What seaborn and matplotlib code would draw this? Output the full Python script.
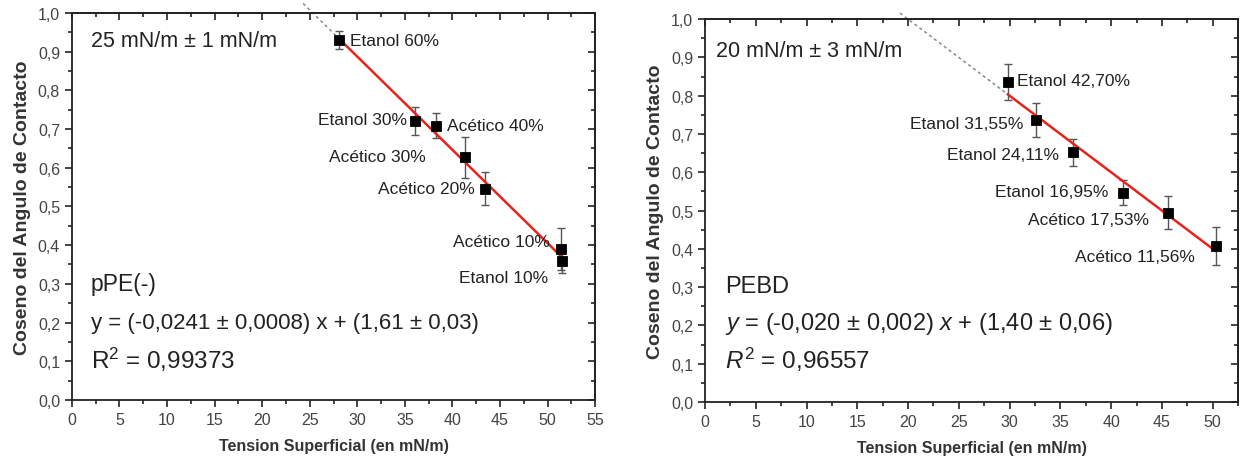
import seaborn as sns
import matplotlib.pyplot as plt
import pandas as pd
from matplotlib.ticker import MultipleLocator, FuncFormatter

# pPE(-) panel
ppe_labels = ["Etanol 60%", "Etanol 30%", "Acético 40%", "Acético 30%",
              "Acético 20%", "Acético 10%", "Etanol 10%"]
ppe_x = [28.1, 36.1, 38.3, 41.3, 43.4, 51.4, 51.5]
ppe_y = [0.930, 0.720, 0.709, 0.627, 0.546, 0.390, 0.358]
ppe_err = [0.022, 0.036, 0.033, 0.053, 0.043, 0.055, 0.030]
ppe_slope, ppe_icpt = -0.0241, 1.61

# PEBD panel
pebd_labels = ["Etanol 42,70%", "Etanol 31,55%", "Etanol 24,11%",
               "Etanol 16,95%", "Acético 17,53%", "Acético 11,56%"]
pebd_x = [29.8, 32.6, 36.2, 41.2, 45.6, 50.3]
pebd_y = [0.837, 0.737, 0.652, 0.547, 0.494, 0.407]
pebd_err = [0.047, 0.045, 0.035, 0.033, 0.043, 0.049]
pebd_slope, pebd_icpt = -0.020, 1.40

y_ticks = [0.0, 0.1, 0.2, 0.3, 0.4, 0.5, 0.6, 0.7, 0.8, 0.9, 1.0]

sns.set_theme(style="ticks")
plt.rcParams['font.family'] = ['Liberation Sans', 'DejaVu Sans']
plt.rcParams['mathtext.fontset'] = 'custom'
plt.rcParams['mathtext.rm'] = 'Liberation Sans'
plt.rcParams['mathtext.it'] = 'Liberation Sans:italic'

fig = plt.figure(figsize=(12.4, 4.64), dpi=100)
ax1 = fig.add_axes([0.058, 0.136, 0.422, 0.834])
ax2 = fig.add_axes([0.5685, 0.1315, 0.430, 0.825])


def draw_panel(ax, labels, xs, ys, errs, slope, icpt, x_start, x_dash, xmax, label_pos):
    df = pd.DataFrame({"x": xs, "y": ys, "err": errs, "label": labels})
    # fit line and its dotted extension
    fit = pd.DataFrame({"x": [x_start, max(xs)]})
    fit["y"] = slope * fit["x"] + icpt
    ext = pd.DataFrame({"x": [x_dash, x_start]})
    ext["y"] = slope * ext["x"] + icpt
    ax.plot(ext["x"], ext["y"], ls=(0, (2, 2)), color="#888888", lw=1.1, clip_on=False)
    ax.errorbar(df["x"], df["y"], yerr=df["err"], fmt="none", ecolor="#555555",
                elinewidth=1, capsize=3, capthick=1)
    sns.lineplot(data=fit, x="x", y="y", ax=ax, color="#e8231c", lw=1.8)
    sns.scatterplot(data=df, x="x", y="y", ax=ax, marker="s", color="black",
                    s=55, edgecolor="black", zorder=5)
    for (lx, ly, ha), txt in zip(label_pos, labels):
        ax.text(lx, ly, txt, ha=ha, va="center", fontsize=12.5, color="#222222")

    ax.set_xlim(0, xmax)
    ax.set_ylim(0, 1.0)
    ax.set_yticks(y_ticks)
    ax.xaxis.set_major_locator(MultipleLocator(5))
    ax.xaxis.set_minor_locator(MultipleLocator(2.5))
    ax.yaxis.set_minor_locator(MultipleLocator(0.05))
    ax.yaxis.set_major_formatter(FuncFormatter(lambda v, p: f"{v:.1f}".replace(".", ",")))
    ax.tick_params(which="major", direction="out", length=5, width=1.2,
                   labelsize=11.5, labelcolor="#444444", color="#222222")
    ax.tick_params(which="minor", direction="out", length=3, width=1.2, color="#222222")
    for side in ["top", "right"]:
        ax.spines[side].set_visible(True)
    for sp in ax.spines.values():
        sp.set_linewidth(1.3)
        sp.set_color("#222222")
    top = ax.secondary_xaxis("top")
    top.xaxis.set_major_locator(MultipleLocator(5))
    top.xaxis.set_minor_locator(MultipleLocator(2.5))
    top.tick_params(which="both", direction="in", labeltop=False, color="#222222", width=1.2)
    top.tick_params(which="major", length=5)
    top.tick_params(which="minor", length=3)
    right = ax.secondary_yaxis("right")
    right.set_yticks(y_ticks)
    right.yaxis.set_minor_locator(MultipleLocator(0.05))
    right.tick_params(which="both", direction="in", labelright=False, color="#222222", width=1.2)
    right.tick_params(which="major", length=5)
    right.tick_params(which="minor", length=3)
    ax.set_xlabel("Tension Superficial (en mN/m)", fontsize=11.5, fontweight="bold",
                  color="#333333", labelpad=8)
    ax.set_ylabel("Coseno del Angulo de Contacto", fontsize=14, fontweight="bold",
                  color="#333333", labelpad=5)


draw_panel(ax1, ppe_labels, ppe_x, ppe_y, ppe_err, ppe_slope, ppe_icpt,
           28.1, 24.3, 55,
           [(29.2, 0.93, "left"), (35.2, 0.725, "right"), (39.4, 0.708, "left"),
            (37.2, 0.628, "right"), (42.3, 0.545, "right"), (50.2, 0.41, "right"),
            (50.0, 0.315, "right")])
ax1.text(2.0, 0.93, "25 mN/m ± 1 mN/m", fontsize=15.5, va="center", color="#222222")
ax1.text(2.0, 0.30, "pPE(-)", fontsize=16.5, va="center", color="#222222")
ax1.text(2.0, 0.20, "y = (-0,0241 ± 0,0008) x + (1,61 ± 0,03)", fontsize=16,
         va="center", color="#222222")
ax1.text(2.0, 0.105, "R$^2$ = 0,99373", fontsize=17.5, va="center", color="#222222")

draw_panel(ax2, pebd_labels, pebd_x, pebd_y, pebd_err, pebd_slope, pebd_icpt,
           29.8, 19.2, 52.5,
           [(30.7, 0.84, "left"), (31.4, 0.727, "right"), (34.9, 0.647, "right"),
            (39.7, 0.55, "right"), (43.7, 0.477, "right"), (48.2, 0.381, "right")])
ax2.text(1.1, 0.917, "20 mN/m ± 3 mN/m", fontsize=15.5, va="center", color="#222222")
ax2.text(2.0, 0.303, "PEBD", fontsize=17, va="center", color="#222222")
ax2.text(2.0, 0.207, "$\\mathit{y}$ = (-0,020 ± 0,002) $\\mathit{x}$ + (1,40 ± 0,06)",
         fontsize=17, va="center", color="#222222")
ax2.text(2.0, 0.112, "$\\mathit{R}^2$ = 0,96557", fontsize=17.5, va="center", color="#222222")

fig.savefig("out.png", dpi=100)
